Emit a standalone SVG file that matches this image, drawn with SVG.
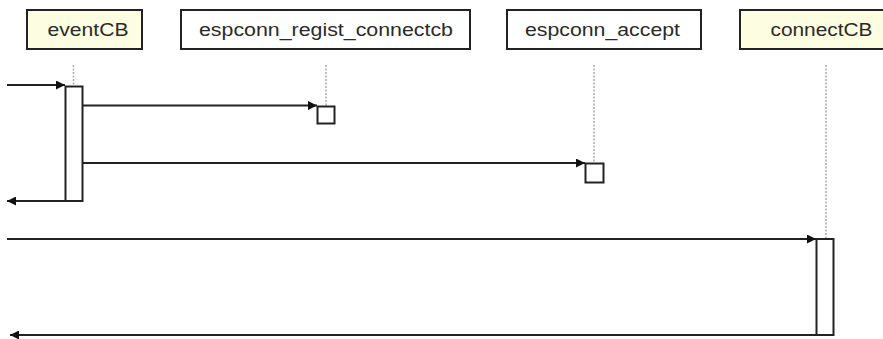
<svg xmlns="http://www.w3.org/2000/svg" width="883" height="339" viewBox="0 0 883 339">
<style>
.box{stroke:#222;stroke-width:2}
.actor{fill:#fdfde1}
.plain{fill:#fff}
.lbl{font-family:"Liberation Sans",Arial,sans-serif;font-size:17.5px;fill:#2a2a2a}
.life{stroke:#aaa;stroke-width:1.5;stroke-dasharray:2 1.5}
.msg{stroke:#222;stroke-width:1.8;fill:none}
.act{fill:#fff;stroke:#222;stroke-width:2}
</style>
<defs>
<marker id="ah" viewBox="0 0 10 10" refX="10" refY="5" markerWidth="10" markerHeight="9" markerUnits="userSpaceOnUse" orient="auto">
<path d="M0,0 L10,5 L0,10 z" fill="#111"/>
</marker>
</defs>
<rect width="883" height="339" fill="#fff"/>
<g id="lifelines">
<line class="life" x1="73.5" y1="65" x2="73.5" y2="86"/>
<line class="life" x1="326" y1="65" x2="326" y2="106"/>
<line class="life" x1="594" y1="65" x2="594" y2="163"/>
<line class="life" x1="826" y1="65" x2="826" y2="238"/>
</g>
<g id="eventCB">
<rect class="box actor" x="27" y="10" width="115" height="39"/>
<text class="lbl" x="47.5" y="35.5" textLength="81" lengthAdjust="spacingAndGlyphs">eventCB</text>
</g>
<g id="espconn_regist_connectcb">
<rect class="box plain" x="181" y="10" width="289" height="39"/>
<text class="lbl" x="199" y="35.5" textLength="254" lengthAdjust="spacingAndGlyphs">espconn_regist_connectcb</text>
</g>
<g id="espconn_accept">
<rect class="box plain" x="507" y="10" width="194" height="39"/>
<text class="lbl" x="525" y="35.5" textLength="155" lengthAdjust="spacingAndGlyphs">espconn_accept</text>
</g>
<g id="connectCB">
<rect class="box actor" x="740" y="10" width="150" height="39"/>
<text class="lbl" x="770.5" y="35.5" textLength="102" lengthAdjust="spacingAndGlyphs">connectCB</text>
</g>
<g id="activations">
<rect class="act" x="65.5" y="86.5" width="17" height="114.5"/>
<rect class="act" x="317.5" y="106.5" width="17" height="17"/>
<rect class="act" x="585.5" y="163.5" width="18" height="19"/>
<rect class="act" x="816.5" y="239" width="17" height="96"/>
</g>
<g id="connectors">
<line class="msg" x1="7" y1="85" x2="65" y2="85" marker-end="url(#ah)"/>
<line class="msg" x1="83" y1="105.5" x2="317" y2="105.5" marker-end="url(#ah)"/>
<line class="msg" x1="83" y1="163" x2="585" y2="163" marker-end="url(#ah)"/>
<line class="msg" x1="65" y1="201" x2="7" y2="201" marker-end="url(#ah)"/>
<line class="msg" x1="7" y1="239" x2="816" y2="239" marker-end="url(#ah)"/>
<line class="msg" x1="816" y1="335" x2="10" y2="335" marker-end="url(#ah)"/>
</g>
</svg>
